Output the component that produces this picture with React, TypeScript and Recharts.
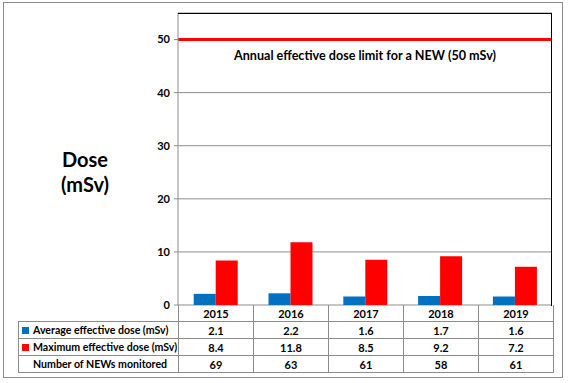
import React from "react";
import { BarChart, Bar, XAxis, YAxis, CartesianGrid, ReferenceLine } from "recharts";

const years = ["2015", "2016", "2017", "2018", "2019"];
const avgDose = [2.1, 2.2, 1.6, 1.7, 1.6];
const maxDose = [8.4, 11.8, 8.5, 9.2, 7.2];
const newsMonitored = [69, 63, 61, 58, 61];
const yTicks = [0, 10, 20, 30, 40, 50];
const doseLimit = 50;
const limitLabel = "Annual effective dose limit for a NEW (50 mSv)";

const BLUE = "#0070C0";
const RED = "#FF0000";
const GRID = "#8c8c8c";
const FONT = "Lato, 'Open Sans', sans-serif";

const data = years.map((y, i) => ({ year: y, avg: avgDose[i], max: maxDose[i] }));

const cell: React.CSSProperties = {
  border: `1px solid ${GRID}`,
  height: 16,
  padding: 0,
  textAlign: "center",
  fontWeight: "bold",
  fontSize: 11,
};

const labelCell: React.CSSProperties = {
  ...cell,
  textAlign: "left",
  paddingLeft: 3,
  fontSize: 10.6,
  whiteSpace: "nowrap",
};

function Swatch({ color }: { color?: string }) {
  return (
    <span
      style={{
        display: "inline-block",
        width: 7,
        height: 7,
        marginRight: 4,
        background: color ?? "transparent",
      }}
    />
  );
}

export default function App() {
  return (
    <div
      style={{
        position: "absolute",
        left: 0,
        top: 0,
        width: 568,
        height: 383,
        background: "#fff",
        fontFamily: FONT,
      }}
    >
      <div
        style={{
          position: "absolute",
          left: 3,
          top: 2,
          width: 558,
          height: 374,
          border: "1px solid #8c8c8c",
        }}
      />
      <div
        style={{
          position: "absolute",
          left: 35,
          top: 147,
          width: 100,
          textAlign: "center",
          fontWeight: "bold",
          fontSize: 20,
          lineHeight: "25px",
        }}
      >
        Dose
        <br />
        (mSv)
      </div>
      <div style={{ position: "absolute", left: 0, top: 0 }}>
        <BarChart
          width={568}
          height={383}
          data={data}
          margin={{ top: 13, right: 16, bottom: 78, left: 0 }}
          barCategoryGap="21%"
          barGap={0}
        >
          <CartesianGrid vertical={false} stroke={GRID} />
          <XAxis dataKey="year" hide />
          <YAxis
            width={178}
            domain={[0, 55]}
            ticks={yTicks}
            tickSize={4}
            tickMargin={4}
            axisLine={{ stroke: GRID }}
            tickLine={{ stroke: GRID }}
            tick={{ fill: "#000", fontSize: 11, fontWeight: "bold", fontFamily: FONT }}
          />
          <Bar dataKey="avg" fill={BLUE} isAnimationActive={false} />
          <Bar dataKey="max" fill={RED} isAnimationActive={false} />
          <ReferenceLine
            y={doseLimit}
            stroke={RED}
            strokeWidth={3}
            label={{
              value: limitLabel,
              position: "bottom",
              offset: 12,
              fill: "#000",
              fontSize: 12.6,
              fontWeight: "bold",
              fontFamily: FONT,
            }}
          />
        </BarChart>
      </div>
      <div
        style={{
          position: "absolute",
          left: 178,
          top: 13,
          width: 373,
          height: 292,
          borderTop: "1px solid #000",
          borderRight: "1px solid #000",
          pointerEvents: "none",
        }}
      />
      <table
        style={{
          position: "absolute",
          left: 18,
          top: 305,
          borderCollapse: "collapse",
          tableLayout: "fixed",
          width: 535,
          fontFamily: FONT,
        }}
      >
        <colgroup>
          <col style={{ width: 160 }} />
          {years.map((y) => (
            <col key={y} style={{ width: 75 }} />
          ))}
        </colgroup>
        <tbody>
          <tr>
            <td style={{ ...cell, border: "none" }} />
            {years.map((y) => (
              <td key={y} style={{ ...cell, borderTop: "none" }}>
                {y}
              </td>
            ))}
          </tr>
          <tr>
            <td style={labelCell}>
              <Swatch color={BLUE} />
              Average effective dose (mSv)
            </td>
            {avgDose.map((v, i) => (
              <td key={i} style={cell}>
                {v.toFixed(1)}
              </td>
            ))}
          </tr>
          <tr>
            <td style={labelCell}>
              <Swatch color={RED} />
              Maximum effective dose (mSv)
            </td>
            {maxDose.map((v, i) => (
              <td key={i} style={cell}>
                {v.toFixed(1)}
              </td>
            ))}
          </tr>
          <tr>
            <td style={labelCell}>
              <Swatch />
              Number of NEWs monitored
            </td>
            {newsMonitored.map((v, i) => (
              <td key={i} style={cell}>
                {v}
              </td>
            ))}
          </tr>
        </tbody>
      </table>
    </div>
  );
}
